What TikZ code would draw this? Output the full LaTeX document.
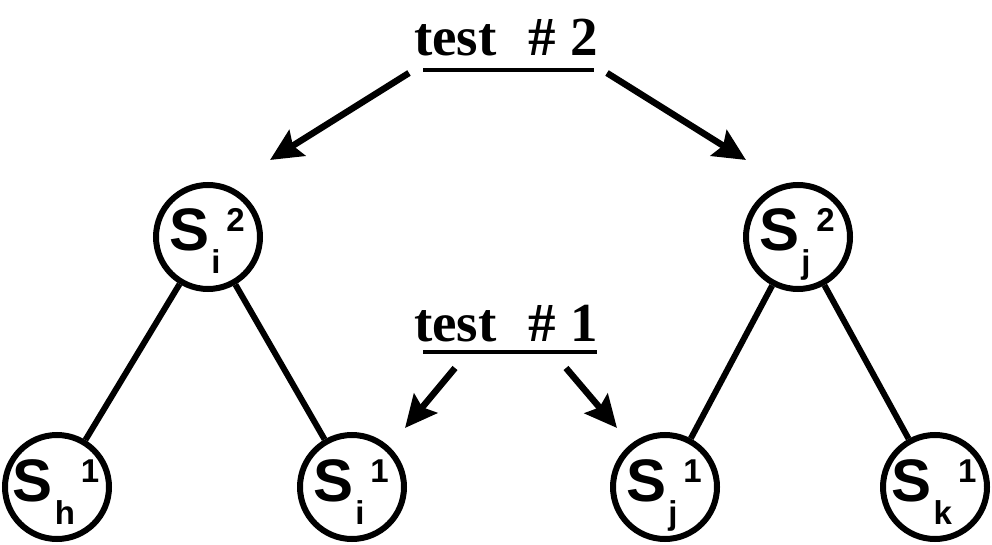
\documentclass[tikz,border=0pt]{standalone}
\usepackage{fontspec}
\setmainfont{Liberation Serif}
\newfontfamily\lsans{Liberation Sans}
\usetikzlibrary{arrows.meta}
\tikzset{
  circ/.style={circle,draw,line width=6pt,minimum size=104pt,inner sep=0pt},
  slab/.style={inner sep=0pt,anchor=base,font=\lsans\bfseries},
  ttl/.style={inner sep=0pt,anchor=base west,font=\bfseries\fontsize{55}{55}\selectfont},
  edge/.style={line width=6pt},
  arr/.style={line width=6.5pt,-{Stealth[length=32pt,width=30pt,inset=5pt]}},
  uline/.style={line width=3.5pt}
}
\newcommand{\Snode}[2]{{\fontsize{60}{60}\selectfont S}\hspace{2pt}\raisebox{-23pt}{\fontsize{33}{33}\selectfont #1}\hspace{6pt}\raisebox{19pt}{\fontsize{33}{33}\selectfont #2}}
\begin{document}
\begin{tikzpicture}[x=1pt,y=1pt]
\useasboundingbox (0,0) rectangle (992,544);
% circles
\node[circ] (si2) at (208,307) {};
\node[circ] (sj2) at (798,307) {};
\node[circ] (sh1) at (57,57) {};
\node[circ] (si1) at (352,57) {};
\node[circ] (sj1) at (665,57) {};
\node[circ] (sk1) at (935,57) {};
% labels
\node[slab] (lsi2) at ([xshift=-1pt,yshift=-14pt]si2.center) {\Snode{i}{2}};
\node[slab] (lsj2) at ([xshift=-1pt,yshift=-14pt]sj2.center) {\Snode{j}{2}};
\node[slab] (lsh1) at ([xshift=-1pt,yshift=-14pt]sh1.center) {\Snode{h}{1}};
\node[slab] (lsi1) at ([xshift=-1pt,yshift=-14pt]si1.center) {\Snode{i}{1}};
\node[slab] (lsj1) at ([xshift=-1pt,yshift=-14pt]sj1.center) {\Snode{j}{1}};
\node[slab] (lsk1) at ([xshift=-1pt,yshift=-14pt]sk1.center) {\Snode{k}{1}};
% tree edges
\draw[edge] (si2) -- (sh1);
\draw[edge] (si2) -- (si1);
\draw[edge] (sj2) -- (sj1);
\draw[edge] (sj2) -- (sk1);
% titles
\node[ttl] (t2) at (414,488) {test\hspace{32pt}\#\hspace{14pt}2};
\node[ttl] (t1) at (414,203) {test\hspace{32pt}\#\hspace{14pt}1};
\coordinate (u2a) at (423,474); \coordinate (u2b) at (594,474);
\coordinate (u1a) at (423,192); \coordinate (u1b) at (597,192);
\draw[uline] (u2a) -- (u2b);
\draw[uline] (u1a) -- (u1b);
% arrows
\coordinate (a2ls) at (409,471); \coordinate (a2le) at (270,384);
\coordinate (a2rs) at (607,471); \coordinate (a2re) at (746,384);
\coordinate (a1ls) at (455,176); \coordinate (a1le) at (405,116);
\coordinate (a1rs) at (566,176); \coordinate (a1re) at (617,116);
\draw[arr] (a2ls) -- (a2le);
\draw[arr] (a2rs) -- (a2re);
\draw[arr] (a1ls) -- (a1le);
\draw[arr] (a1rs) -- (a1re);
\end{tikzpicture}
\end{document}
